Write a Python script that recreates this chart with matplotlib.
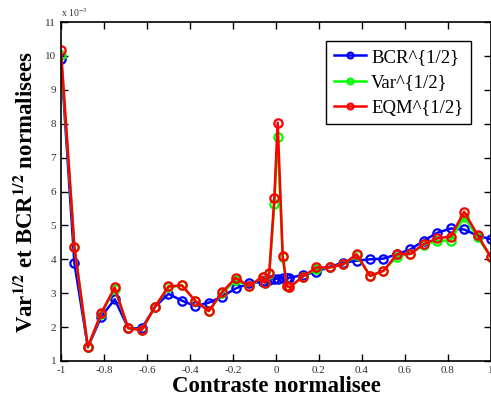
import numpy as np
import matplotlib
matplotlib.use('Agg')
import matplotlib.pyplot as plt
from matplotlib.ticker import FuncFormatter, MultipleLocator

# donnees (valeurs en unites de 1e-3)
contraste = [-1, -0.9375, -0.875, -0.8125, -0.75, -0.6875, -0.625, -0.5625,
             -0.5, -0.4375, -0.375, -0.3125, -0.25, -0.1875, -0.125,
             -0.0625, -0.05, -0.03125, -0.0078, 0.0078, 0.03125, 0.05, 0.0625,
             0.125, 0.1875, 0.25, 0.3125, 0.375, 0.4375, 0.5, 0.5625, 0.625,
             0.6875, 0.75, 0.8125, 0.875, 0.9375, 1.0]
bcr = [9.90, 3.88, 1.40, 2.31, 2.82, 1.97, 1.96, 2.60, 2.98, 2.78, 2.62, 2.72,
       2.90, 3.14, 3.29, 3.34, 3.37, 3.40, 3.42, 3.43, 3.44, 3.45, 3.46,
       3.53, 3.63, 3.78, 3.90, 3.96, 4.00, 4.02, 4.15, 4.29, 4.55, 4.78, 4.91,
       4.88, 4.70, 4.59]
var = [10.03, 4.37, 1.40, 2.40, 3.12, 1.97, 1.92, 2.60, 3.17, 3.23, 2.77, 2.48,
       3.00, 3.38, 3.21, 3.47, 3.30, 3.58, 5.62, 7.62, 4.08, 3.22, 3.17,
       3.49, 3.72, 3.76, 3.85, 4.12, 3.51, 3.66, 4.08, 4.16, 4.43, 4.55, 4.55,
       5.26, 4.65, 4.06]
eqm = [10.17, 4.37, 1.42, 2.42, 3.17, 1.97, 1.91, 2.60, 3.20, 3.23, 2.77, 2.47,
       3.04, 3.45, 3.21, 3.49, 3.30, 3.60, 5.80, 8.03, 4.10, 3.22, 3.17,
       3.49, 3.76, 3.76, 3.85, 4.15, 3.51, 3.66, 4.15, 4.16, 4.45, 4.62, 4.67,
       5.40, 4.72, 4.06]
series = [('BCR^{1/2}', bcr, '#0000ff'),
          ('Var^{1/2}', var, '#00ff00'),
          ('EQM^{1/2}', eqm, '#ff0000')]

plt.rcParams['font.family'] = ['Liberation Serif', 'DejaVu Serif']
plt.rcParams['mathtext.fontset'] = 'stix'

fig = plt.figure(figsize=(4.91, 3.96), dpi=100)
ax = fig.add_axes([0.1242, 0.0884, 0.8758, 0.856])

x = np.array(contraste)
for label, vals, color in series:
    ax.plot(x, np.array(vals) * 1e-3, '-o', color=color, lw=1.8,
            markersize=6, markerfacecolor='none', markeredgewidth=1.6,
            label=label)

ax.set_xlim(-1, 1)
ax.set_ylim(1e-3, 11e-3)
ax.xaxis.set_major_locator(MultipleLocator(0.2))
ax.yaxis.set_major_locator(MultipleLocator(1e-3))
ax.xaxis.set_major_formatter(FuncFormatter(lambda v, p: f'{round(v, 1):g}'))
ax.yaxis.set_major_formatter(FuncFormatter(lambda v, p: f'{round(v * 1e3):g}'))
ax.tick_params(direction='in', top=True, right=True, labelsize=8,
               labelcolor='#333333', length=5, width=1)
for s in ax.spines.values():
    s.set_linewidth(1.2)

ax.text(0.0, 1.01, r'x 10$^{-3}$', transform=ax.transAxes, fontsize=7,
        color='#333333', ha='left', va='bottom')

ax.set_xlabel('Contraste normalisee', fontsize=16.5, weight='bold', labelpad=1)
ax.set_ylabel(r'Var$^{\mathbf{1/2}}$ et BCR$^{\mathbf{1/2}}$ normalisees',
              fontsize=16.5, weight='bold', labelpad=5)

leg = ax.legend(loc='upper right', bbox_to_anchor=(0.953, 0.944),
                borderaxespad=0, fontsize=13.5, fancybox=False, framealpha=1,
                edgecolor='black', handlelength=1.7, handletextpad=0.3,
                markerscale=0.7, labelspacing=0.45, borderpad=0.4)
leg.get_frame().set_linewidth(1.0)

plt.savefig('out.png', dpi=100)
plt.close()
